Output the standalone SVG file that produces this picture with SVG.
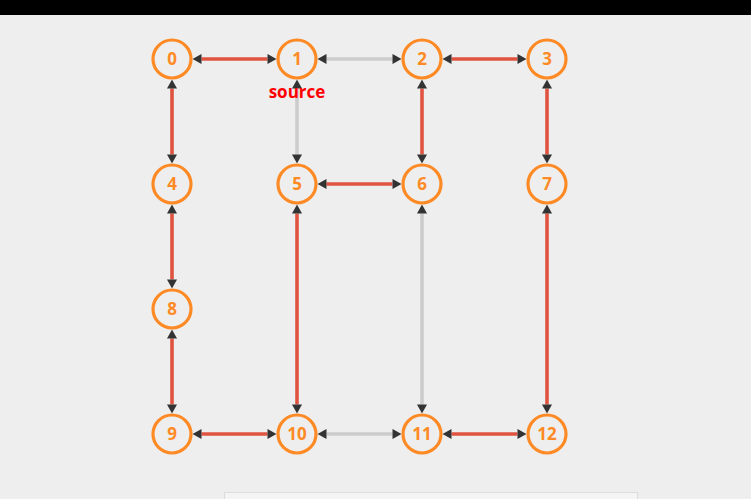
<svg xmlns="http://www.w3.org/2000/svg" width="751" height="499" viewBox="0 0 751 499">
<style>
.n circle{fill:#eeeeee;stroke:#fe8a25;stroke-width:3.2}
.n text{font-family:"Open Sans","Noto Sans",sans-serif;font-weight:700;font-size:17px;fill:#fe8a25;text-anchor:middle}
.e{stroke-width:3.6;fill:none;marker-start:url(#ar);marker-end:url(#ar)}
.r{stroke:#e0533f}
.g{stroke:#cccccc}
.lbl{font-family:"Open Sans","Noto Sans",sans-serif;font-weight:700;font-size:17px;fill:#ff0000;text-anchor:middle}
</style>
<defs>
<marker id="ar" markerUnits="userSpaceOnUse" markerWidth="10" markerHeight="12" refX="0" refY="5" orient="auto-start-reverse" overflow="visible">
<path d="M0,0 L9,5 L0,10 z" fill="#333333"/>
</marker>
</defs>
<rect x="0" y="0" width="751" height="499" fill="#eeeeee"/>
<rect x="0" y="0" width="751" height="15" fill="#000000"/>
<rect x="224.5" y="492.5" width="413" height="10" fill="#f4f4f4" stroke="#dddddd"/>
<g id="edges">
<line class="e r" x1="201.5" y1="59" x2="267.5" y2="59"/>
<line class="e g" x1="326.5" y1="59" x2="392.5" y2="59"/>
<line class="e r" x1="451.5" y1="59" x2="517.5" y2="59"/>
<line class="e r" x1="172" y1="88.5" x2="172" y2="154.5"/>
<line class="e g" x1="297" y1="88.5" x2="297" y2="154.5"/>
<line class="e r" x1="422" y1="88.5" x2="422" y2="154.5"/>
<line class="e r" x1="547" y1="88.5" x2="547" y2="154.5"/>
<line class="e r" x1="326.5" y1="184" x2="392.5" y2="184"/>
<line class="e r" x1="172" y1="213.5" x2="172" y2="279.5"/>
<line class="e r" x1="172" y1="338.5" x2="172" y2="404.5"/>
<line class="e r" x1="297" y1="213.5" x2="297" y2="404.5"/>
<line class="e g" x1="422" y1="213.5" x2="422" y2="404.5"/>
<line class="e r" x1="547" y1="213.5" x2="547" y2="404.5"/>
<line class="e r" x1="201.5" y1="434" x2="267.5" y2="434"/>
<line class="e g" x1="326.5" y1="434" x2="392.5" y2="434"/>
<line class="e r" x1="451.5" y1="434" x2="517.5" y2="434"/>
</g>
<g id="node0" class="n"><circle cx="172" cy="59" r="19"/><text x="172" y="65">0</text></g>
<g id="node1" class="n"><circle cx="297" cy="59" r="19"/><text x="297" y="65">1</text></g>
<g id="node2" class="n"><circle cx="422" cy="59" r="19"/><text x="422" y="65">2</text></g>
<g id="node3" class="n"><circle cx="547" cy="59" r="19"/><text x="547" y="65">3</text></g>
<g id="node4" class="n"><circle cx="172" cy="184" r="19"/><text x="172" y="190">4</text></g>
<g id="node5" class="n"><circle cx="297" cy="184" r="19"/><text x="297" y="190">5</text></g>
<g id="node6" class="n"><circle cx="422" cy="184" r="19"/><text x="422" y="190">6</text></g>
<g id="node7" class="n"><circle cx="547" cy="184" r="19"/><text x="547" y="190">7</text></g>
<g id="node8" class="n"><circle cx="172" cy="309" r="19"/><text x="172" y="315">8</text></g>
<g id="node9" class="n"><circle cx="172" cy="434" r="19"/><text x="172" y="440">9</text></g>
<g id="node10" class="n"><circle cx="297" cy="434" r="19"/><text x="297" y="440">10</text></g>
<g id="node11" class="n"><circle cx="422" cy="434" r="19"/><text x="422" y="440">11</text></g>
<g id="node12" class="n"><circle cx="547" cy="434" r="19"/><text x="547" y="440">12</text></g>
<text class="lbl" x="297" y="98">source</text>
</svg>
